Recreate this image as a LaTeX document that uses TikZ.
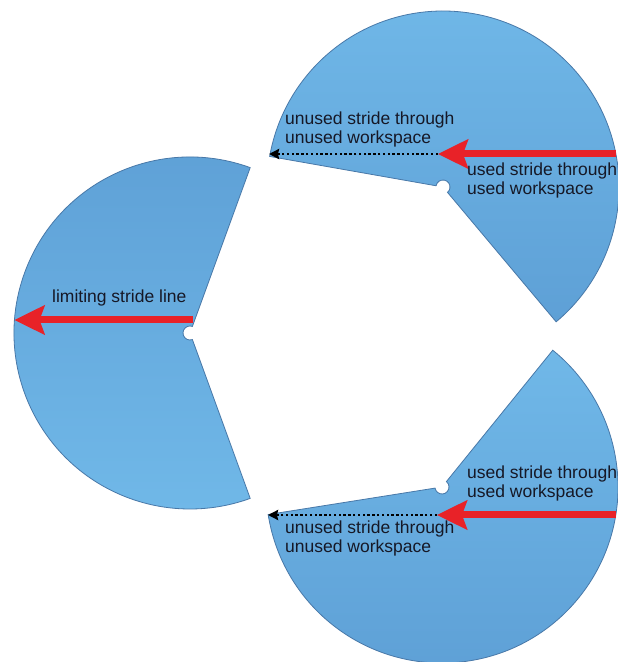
\documentclass[tikz,border=0pt]{standalone}
\usepackage{fontspec}
\setmainfont{Liberation Sans}
\usetikzlibrary{arrows.meta}
\definecolor{fanlight}{RGB}{112,184,232}
\definecolor{fandark}{RGB}{94,160,214}
\definecolor{edgeblue}{RGB}{72,120,168}
\definecolor{arrowred}{RGB}{232,34,40}
\definecolor{textdark}{RGB}{22,24,38}
\begin{document}
\begin{tikzpicture}[x=1pt,y=1pt,
  sector/.style={draw=edgeblue, line width=0.8pt, shading=axis},
  redarrow/.style={draw=arrowred, line width=7pt, -{Stealth[length=30pt,width=29pt,inset=5pt]}},
  dotarrow/.style={draw=black, line width=2.6pt, dash pattern=on 2.4pt off 2.4pt, -{Stealth[length=10pt,width=10pt,inset=1pt]}},
  lbl/.style={font=\fontsize{17.5}{19.5}\selectfont, align=left, inner sep=0pt, text=textdark, anchor=base west}]
\useasboundingbox (0,0) rectangle (618,662);
\fill[white] (0,0) rectangle (618,662);

% left sector
\shadedraw[sector, shift={(190,329)}, top color=fandark, bottom color=fanlight]
  (70:7) -- (70:176) arc[start angle=70, end angle=290, radius=176]
  -- (290:7) arc[start angle=290, end angle=70, radius=7] -- cycle;
% top-right sector
\shadedraw[sector, shift={(443,475)}, shading angle=30, top color=fanlight, bottom color=fandark]
  (-50:7) -- (-50:176) arc[start angle=-50, end angle=170, radius=176]
  -- (170:7) arc[start angle=170, end angle=-50, radius=7] -- cycle;
% bottom-right sector
\shadedraw[sector, shift={(442,175)}, shading angle=-110, top color=fanlight, bottom color=fandark]
  (189:7) -- (189:176) arc[start angle=189, end angle=411, radius=176]
  -- (411:7) arc[start angle=411, end angle=189, radius=7] -- cycle;

% arrow end points
\coordinate (Lstart) at (193,342);
\coordinate (Lend) at (14.5,342);
\coordinate (Tstart) at (616,508);
\coordinate (Ttip) at (438,508);
\coordinate (Tend) at (269,508);
\coordinate (Bstart) at (616,147);
\coordinate (Btip) at (437,147);
\coordinate (Bend) at (268,147);

\draw[redarrow] (Lstart) -- (Lend);
\draw[dotarrow] (Ttip) -- (Tend);
\draw[redarrow] (Tstart) -- (Ttip);
\draw[dotarrow] (Btip) -- (Bend);
\draw[redarrow] (Bstart) -- (Btip);

% labels (base = baseline of the last line)
\node[lbl] (limit) at (52,359) {limiting stride line};
\node[lbl] (tunused) at (285,518) {unused stride through\\unused workspace};
\node[lbl] (tused) at (467,467) {used stride through\\used workspace};
\node[lbl] (bused) at (467,164) {used stride through\\used workspace};
\node[lbl] (bunused) at (285,109) {unused stride through\\unused workspace};
\end{tikzpicture}
\end{document}
